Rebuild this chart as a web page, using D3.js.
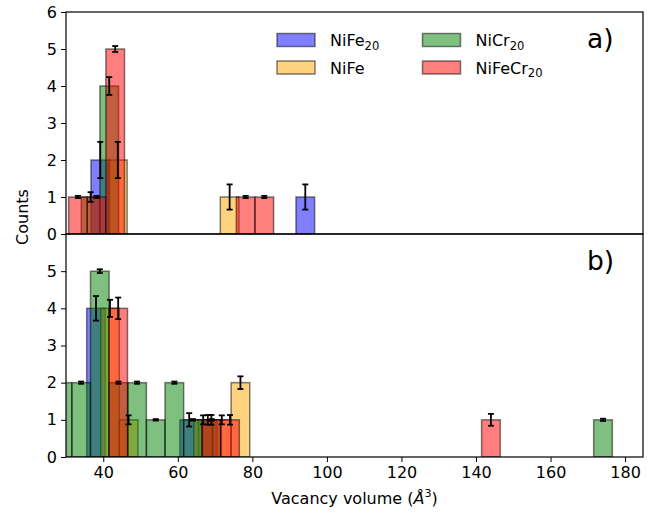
<!DOCTYPE html>
<html>
<head>
<meta charset="utf-8">
<script src="https://cdn.jsdelivr.net/npm/d3@7"></script>
<style>
  html, body { margin: 0; padding: 0; background: #fff; }
  svg { display: block; font-family: "DejaVu Sans", sans-serif; }
</style>
</head>
<body>
<svg id="chart" width="667" height="515"></svg>
<script>
// ---------- data ----------
const seriesNames = ["NiFe", "NiFe", "NiCr", "NiFeCr"];
const seriesSubs  = ["20", "", "20", "20"];
const seriesColors = ["#0000ff", "#ffa500", "#008000", "#ff0000"];

const xTicks = [40, 60, 80, 100, 120, 140, 160, 180];
const yTicksA = [0, 1, 2, 3, 4, 5, 6];
const yTicksB = [0, 1, 2, 3, 4, 5];
const binWidth = 5;

// panel a)
const aBlueX = [39.2, 94.2],  aBlueY = [2, 1], aBlueErr = [0.49, 0.34];
const aOrangeX = [43.9, 73.9], aOrangeY = [2, 1], aOrangeErr = [0.49, 0.34];
const aGreenX = [36.6, 41.6], aGreenY = [1, 4], aGreenErr = [0.13, 0.24];
const aRedX = [33.2, 38.2, 43.2, 78.2, 83.2], aRedY = [1, 1, 5, 1, 1], aRedErr = [0.03, 0.03, 0.08, 0.03, 0.03];

// panel b)
const bBlueX = [38.05, 63.05, 68.05], bBlueY = [4, 1, 1], bBlueErr = [0.33, 0.18, 0.13];
const bOrangeX = [41.8, 46.8, 66.8, 71.8, 76.8], bOrangeY = [4, 1, 1, 1, 2], bOrangeErr = [0.23, 0.12, 0.12, 0.12, 0.17];
const bGreenX = [29.07, 34.07, 39.07, 44.07, 49.07, 54.07, 59.07, 64.07, 69.07, 174.07];
const bGreenY = [2, 2, 5, 2, 2, 1, 2, 1, 1, 1];
const bGreenErr = [0.03, 0.03, 0.05, 0.03, 0.03, 0.02, 0.03, 0.02, 0.02, 0.03];
const bRedX = [44.0, 69.0, 74.0, 144.0], bRedY = [4, 1, 1, 1], bRedErr = [0.29, 0.13, 0.13, 0.16];

// ---------- layout ----------
const svg = d3.select("#chart");
const left = 66, right = 643;
const panels = [
  { top: 12, bottom: 234, label: "a)", ticks: yTicksA,
    series: [[aBlueX, aBlueY, aBlueErr], [aOrangeX, aOrangeY, aOrangeErr], [aGreenX, aGreenY, aGreenErr], [aRedX, aRedY, aRedErr]] },
  { top: 234, bottom: 457, label: "b)", ticks: yTicksB,
    series: [[bBlueX, bBlueY, bBlueErr], [bOrangeX, bOrangeY, bOrangeErr], [bGreenX, bGreenY, bGreenErr], [bRedX, bRedY, bRedErr]] }
];

const x = d3.scaleLinear().domain([30, 184.8]).range([left, right]);

panels.forEach((p, pi) => {
  const y = d3.scaleLinear().domain([0, 6]).range([p.bottom, p.top]);
  const clipId = "clip" + pi;
  svg.append("clipPath").attr("id", clipId)
    .append("rect").attr("x", left).attr("y", p.top).attr("width", right - left).attr("height", p.bottom - p.top);

  const g = svg.append("g").attr("clip-path", `url(#${clipId})`);
  // bars
  p.series.forEach((s, si) => {
    const [xs, ys] = s;
    const data = xs.map((v, i) => ({ x: v, y: ys[i] }));
    g.selectAll(null).data(data).enter().append("rect")
      .attr("x", d => x(d.x - binWidth / 2))
      .attr("width", d => x(d.x + binWidth / 2) - x(d.x - binWidth / 2))
      .attr("y", d => y(d.y))
      .attr("height", d => y(0) - y(d.y))
      .attr("fill", seriesColors[si]).attr("fill-opacity", 0.5)
      .attr("stroke", "#000").attr("stroke-opacity", 0.5).attr("stroke-width", 1.5);
  });
  // error bars on top
  p.series.forEach((s) => {
    const [xs, ys, es] = s;
    const data = xs.map((v, i) => ({ x: v, y: ys[i], e: es[i] }));
    const eg = g.selectAll(null).data(data).enter().append("g").attr("stroke", "#000").attr("stroke-width", 1.8);
    eg.append("line").attr("x1", d => x(d.x)).attr("x2", d => x(d.x)).attr("y1", d => y(d.y - d.e)).attr("y2", d => y(d.y + d.e));
    eg.append("line").attr("x1", d => x(d.x) - 3).attr("x2", d => x(d.x) + 3).attr("y1", d => y(d.y - d.e)).attr("y2", d => y(d.y - d.e));
    eg.append("line").attr("x1", d => x(d.x) - 3).attr("x2", d => x(d.x) + 3).attr("y1", d => y(d.y + d.e)).attr("y2", d => y(d.y + d.e));
  });

  // y axis
  const ya = svg.append("g").attr("transform", `translate(${left},0)`)
    .call(d3.axisLeft(y).tickValues(p.ticks).tickSize(5).tickPadding(4).tickFormat(d3.format("d")));
  ya.select(".domain").remove();
  ya.selectAll("text").attr("font-size", 16).attr("font-family", "DejaVu Sans").attr("fill", "#000");
  ya.selectAll("line").attr("stroke", "#000").attr("stroke-width", 1);

  // frame
  svg.append("rect").attr("x", left).attr("y", p.top).attr("width", right - left).attr("height", p.bottom - p.top)
    .attr("fill", "none").attr("stroke", "#000").attr("stroke-width", 1.2);

  // panel label
  svg.append("text").attr("x", 587).attr("y", p.top + 35.5).attr("font-size", 26.5).attr("fill", "#000").text(p.label);
});

// x axis (bottom panel)
const xa = svg.append("g").attr("transform", `translate(0,457)`)
  .call(d3.axisBottom(x).tickValues(xTicks).tickSize(5).tickPadding(5).tickFormat(d3.format("d")));
xa.select(".domain").remove();
xa.selectAll("text").attr("font-size", 16).attr("font-family", "DejaVu Sans").attr("fill", "#000");
xa.selectAll("line").attr("stroke", "#000").attr("stroke-width", 1);

// axis labels
const xl = svg.append("text").attr("x", 354.5).attr("y", 504).attr("text-anchor", "middle").attr("font-size", 16).attr("fill", "#000");
xl.append("tspan").text("Vacancy volume (");
xl.append("tspan").attr("font-style", "italic").text("Å");
xl.append("tspan").attr("font-size", 11).attr("dy", -7).text("3");
xl.append("tspan").attr("dy", 7).text(")");

svg.append("text").attr("transform", "translate(28,217) rotate(-90)").attr("text-anchor", "middle")
  .attr("font-size", 16).attr("fill", "#000").text("Counts");

// legend
const legPos = [[277, 40], [277, 67.5], [422.5, 40], [422.5, 67.5]];
seriesNames.forEach((n, i) => {
  const [lx, ly] = legPos[i];
  svg.append("rect").attr("x", lx).attr("y", ly - 6.5).attr("width", 38).attr("height", 13)
    .attr("fill", seriesColors[i]).attr("fill-opacity", 0.5)
    .attr("stroke", "#000").attr("stroke-opacity", 0.5).attr("stroke-width", 1.5);
  const t = svg.append("text").attr("x", lx + 53).attr("y", ly + 6).attr("font-size", 16).attr("fill", "#000");
  t.append("tspan").text(n);
  if (seriesSubs[i]) t.append("tspan").attr("font-size", 11.5).attr("dy", 3.5).text(seriesSubs[i]);
});
</script>
</body>
</html>
